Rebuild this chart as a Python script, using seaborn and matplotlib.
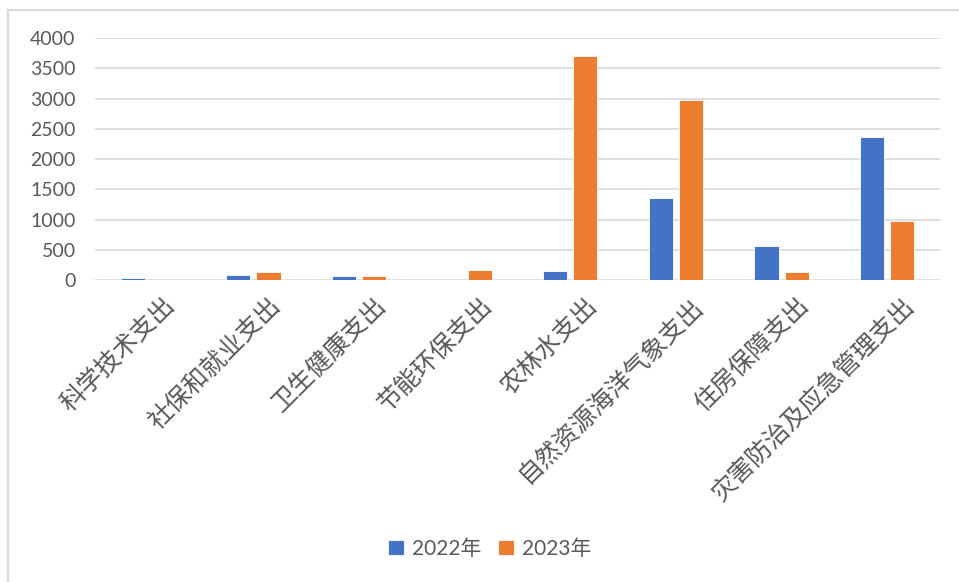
import numpy as np
import pandas as pd
import matplotlib
matplotlib.use('Agg')
import matplotlib.pyplot as plt
import matplotlib.transforms as mtransforms
import seaborn as sns
from matplotlib.lines import Line2D

categories = ['科学技术支出', '社保和就业支出', '卫生健康支出', '节能环保支出',
              '农林水支出', '自然资源海洋气象支出', '住房保障支出', '灾害防治及应急管理支出']
values_2022 = [40, 90, 60, 0, 150, 1360, 560, 2360]
values_2023 = [0, 125, 60, 160, 3700, 2975, 140, 975]
years = ['2022年', '2023年']
colors = ['#4472C4', '#ED7D31']

df = pd.DataFrame({
    'category': categories * 2,
    'year': [years[0]] * len(categories) + [years[1]] * len(categories),
    'value': values_2022 + values_2023,
})

sns.set_style('white')
plt.rcParams['font.family'] = ['Lato', 'Noto Sans CJK SC', 'DejaVu Sans']

W, H = 959, 582
fig = plt.figure(figsize=(W / 100, H / 100), dpi=100)
ax = fig.add_axes([95 / W, 1 - 280 / H, (940 - 95) / W, (280 - 38) / H])

sns.barplot(data=df, x='category', y='value', hue='year', palette=colors,
            width=0.57, gap=0.2, ax=ax, edgecolor='white', linewidth=0.6,
            saturation=1, legend=True)

ax.set_ylim(0, 4000)
ax.set_yticks(np.arange(0, 4001, 500))
ax.set_xlim(-0.5, len(categories) - 0.5)
ax.yaxis.grid(True, color='#D9D9D9', linewidth=1.2)
ax.set_axisbelow(True)
sns.despine(ax=ax, left=True, bottom=True, top=True, right=True)
ax.set_xlabel('')
ax.set_ylabel('')
ax.tick_params(axis='both', length=0)
ax.tick_params(axis='y', labelsize=14, labelcolor='#595959', pad=14)
ax.tick_params(axis='x', pad=9)
ax.set_xticks(range(len(categories)))
ax.set_xticklabels(categories, rotation=45, ha='right', rotation_mode='anchor',
                   fontsize=18, color='#595959', family=['Noto Sans CJK SC'])
shift = mtransforms.ScaledTranslation(14 / 100, 0, fig.dpi_scale_trans)
for lbl in ax.get_xticklabels():
    lbl.set_fontweight('light')
    lbl.set_transform(lbl.get_transform() + shift)

handles, labels = ax.get_legend_handles_labels()
ax.legend_.remove()
fig.legend(handles, labels, loc='center', bbox_to_anchor=(490 / W, 1 - 549 / H),
           ncol=2, frameon=False, fontsize=15, handlelength=0.75, handleheight=0.75,
           handletextpad=0.4, columnspacing=0.8, labelcolor='#595959')

# outer chart border (partly clipped, as in the reference)
fig.add_artist(Line2D([7.5 / W, 7.5 / W], [0, 1 - 9.5 / H], transform=fig.transFigure,
                      color='#D9D9D9', linewidth=1.5))
fig.add_artist(Line2D([7.5 / W, 1], [1 - 9.5 / H, 1 - 9.5 / H], transform=fig.transFigure,
                      color='#D9D9D9', linewidth=1.5))

fig.savefig('out.png', dpi=100)
